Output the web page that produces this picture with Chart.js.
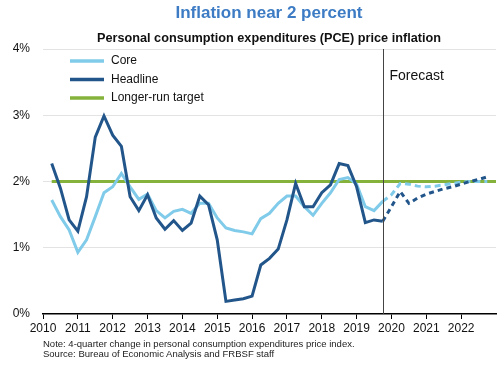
<!DOCTYPE html>
<html>
<head>
<meta charset="utf-8">
<script src="https://cdn.jsdelivr.net/npm/chart.js@4.4.1/dist/chart.umd.min.js"></script>
<style>
  body { margin: 0; background: #fff; font-family: "Liberation Sans", Arial, sans-serif; }
  #wrap { position: relative; width: 500px; height: 365px; overflow: hidden; }
  #chart { position: absolute; left: 0; top: 0; }
  .title { position: absolute; left: 39px; width: 460px; text-align: center; font-weight: bold; white-space: nowrap; }
  #t1 { top: 3px; font-size: 17px; color: #3d7cc4; }
  #t2 { top: 31px; font-size: 12.7px; color: #111; }
  #note { position: absolute; left: 43px; top: 339px; font-size: 9.5px; line-height: 10px; color: #222; white-space: nowrap; }
</style>
</head>
<body>
<div id="wrap">
  <canvas id="chart" width="500" height="365"></canvas>
  <div class="title" id="t1">Inflation near 2 percent</div>
  <div class="title" id="t2">Personal consumption expenditures (PCE) price inflation</div>
  <div id="note">Note: 4-quarter change in personal consumption expenditures price index.<br>Source: Bureau of Economic Analysis and FRBSF staff</div>
</div>
<script>
// quarters 2010Q1 .. 2019Q3 are history, 2019Q3 .. 2022Q3 forecast
const histQuarters = [];
for (let y = 2010; y <= 2019; y++) {
    for (let q = 1; q <= 4; q++) {
        if (y === 2019 && q === 4) break;
        histQuarters.push(y + 'Q' + q);
    }
}
const fcstQuarters = ['2019Q3', '2019Q4', '2020Q1', '2020Q2', '2020Q3', '2020Q4', '2021Q1',
    '2021Q2', '2021Q3', '2021Q4', '2022Q1', '2022Q2', '2022Q3'];

const coreHist = [1.72, 1.47, 1.27, 0.93, 1.12, 1.47, 1.83, 1.92, 2.12, 1.92, 1.73, 1.81,
    1.56, 1.45, 1.55, 1.58, 1.52, 1.67, 1.67, 1.45, 1.30, 1.26, 1.24, 1.21,
    1.44, 1.52, 1.67, 1.78, 1.78, 1.62, 1.49, 1.67, 1.83, 2.03, 2.06, 1.96,
    1.62, 1.56, 1.70];
const headlineHist = [2.27, 1.90, 1.42, 1.25, 1.77, 2.67, 2.99, 2.70, 2.53, 1.77, 1.56, 1.80,
    1.45, 1.28, 1.41, 1.26, 1.37, 1.78, 1.65, 1.12, 0.19, 0.21, 0.23, 0.27,
    0.74, 0.84, 0.98, 1.42, 1.97, 1.62, 1.62, 1.83, 1.95, 2.27, 2.24, 1.92,
    1.38, 1.42, 1.40];
const coreFcst = [1.70, 1.80, 1.97, 1.96, 1.93, 1.92, 1.93, 1.95, 1.97, 1.99, 2.00, 2.00, 2.00];
const headlineFcst = [1.40, 1.62, 1.85, 1.67, 1.75, 1.81, 1.85, 1.89, 1.92, 1.96, 2.00, 2.03, 2.07];

const targetRange = ['2010Q1', '2022Q4'];
const targetValue = 2;
const forecastStart = '2019Q3';
const yTicks = [0, 1, 2, 3, 4];

const coreColor = '#80cbe9';
const headlineColor = '#22568b';
const targetColor = '#84b23a';

// quarter is plotted at the end of the quarter
function qx(label) {
    return parseInt(label.slice(0, 4)) + parseInt(label.slice(5)) / 4;
}
function toPoints(quarters, values) {
    return quarters.map((q, i) => ({ x: qx(q), y: values[i] }));
}

const legendItems = [
    { label: 'Core', color: coreColor },
    { label: 'Headline', color: headlineColor },
    { label: 'Longer-run target', color: targetColor }
];

const overlayPlugin = {
    id: 'overlay',
    afterDatasetsDraw(chart) {
        const c = chart.ctx;
        const xs = chart.scales.x;
        const area = chart.chartArea;
        // forecast divider
        const fx = Math.round(xs.getPixelForValue(qx(forecastStart))) + 0.5;
        c.save();
        c.strokeStyle = '#444';
        c.lineWidth = 1;
        c.beginPath();
        c.moveTo(fx, area.top);
        c.lineTo(fx, area.bottom);
        c.stroke();
        c.fillStyle = '#111';
        c.font = '14px "Liberation Sans", Arial, sans-serif';
        c.textBaseline = 'middle';
        c.fillText('Forecast', fx + 6, 76);
        // legend
        c.font = '12px "Liberation Sans", Arial, sans-serif';
        legendItems.forEach((item, i) => {
            const y = 61 + i * 18.5;
            c.strokeStyle = item.color;
            c.lineWidth = 3.5;
            c.beginPath();
            c.moveTo(70, y);
            c.lineTo(104, y);
            c.stroke();
            c.fillStyle = '#111';
            c.fillText(item.label, 111, y);
        });
        c.restore();
    }
};

const ctx = document.getElementById('chart').getContext('2d');
new Chart(ctx, {
    type: 'line',
    data: {
        datasets: [{
            label: 'Longer-run target',
            data: targetRange.map(q => ({ x: qx(q), y: targetValue })),
            borderColor: targetColor,
            borderWidth: 3,
            order: 3
        }, {
            label: 'Core',
            data: toPoints(histQuarters, coreHist),
            borderColor: coreColor,
            borderWidth: 3,
            order: 2
        }, {
            label: 'Core forecast',
            data: toPoints(fcstQuarters, coreFcst),
            borderColor: coreColor,
            borderWidth: 3,
            borderDash: [6, 4],
            order: 2
        }, {
            label: 'Headline',
            data: toPoints(histQuarters, headlineHist),
            borderColor: headlineColor,
            borderWidth: 3,
            order: 1
        }, {
            label: 'Headline forecast',
            data: toPoints(fcstQuarters, headlineFcst),
            borderColor: headlineColor,
            borderWidth: 3,
            borderDash: [5, 4],
            order: 1
        }]
    },
    options: {
        responsive: false,
        animation: false,
        elements: { point: { radius: 0 }, line: { tension: 0, borderCapStyle: 'butt', borderJoinStyle: 'miter' } },
        layout: { padding: { top: 49, right: 4, bottom: 31, left: 0 } },
        plugins: {
            legend: { display: false },
            tooltip: { enabled: false }
        },
        scales: {
            x: {
                type: 'linear',
                min: 2010,
                max: 2023,
                afterFit: function(scale) { scale.height = 20; },
                afterBuildTicks: function(scale) {
                    scale.ticks = [];
                    for (let y = 2010; y <= 2022; y++) scale.ticks.push({ value: y });
                },
                ticks: {
                    padding: 2,
                    maxRotation: 0,
                    autoSkip: false,
                    color: '#111',
                    font: { family: '"Liberation Sans", Arial, sans-serif', size: 12 },
                    callback: function(value) { return String(value); }
                },
                grid: { drawOnChartArea: false, drawTicks: true, tickLength: 5, color: '#000' },
                border: { display: true, color: '#000', width: 1.5 }
            },
            y: {
                min: 0,
                max: 4,
                afterFit: function(scale) { scale.width = 43; },
                afterBuildTicks: function(scale) {
                    scale.ticks = yTicks.map(v => ({ value: v }));
                },
                ticks: {
                    padding: 13,
                    color: '#111',
                    font: { family: '"Liberation Sans", Arial, sans-serif', size: 12 },
                    callback: function(value) { return value + '%'; }
                },
                grid: {
                    drawTicks: false,
                    color: function(c) { return c.tick && c.tick.value === 0 ? 'rgba(0,0,0,0)' : '#e3e3e3'; }
                },
                border: { display: false }
            }
        }
    },
    plugins: [overlayPlugin]
});
</script>
</body>
</html>
